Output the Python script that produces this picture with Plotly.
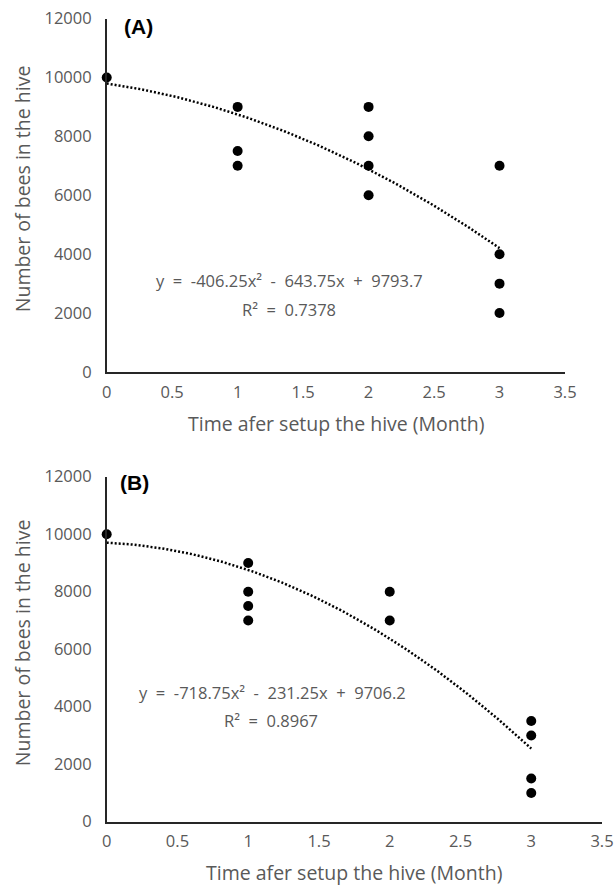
import numpy as np
import plotly.graph_objects as go

# Panel A observations (month, bees)
a_month = [0, 1, 1, 1, 2, 2, 2, 2, 3, 3, 3, 3]
a_bees = [10000, 9000, 7500, 7000, 9000, 8000, 7000, 6000, 7000, 4000, 3000, 2000]
a_coef = [-406.25, -643.75, 9793.7]
a_r2 = 0.7378

# Panel B observations (month, bees)
b_month = [0, 1, 1, 1, 1, 2, 2, 3, 3, 3, 3]
b_bees = [10000, 9000, 8000, 7500, 7000, 8000, 7000, 3500, 3000, 1500, 1000]
b_coef = [-718.75, -231.25, 9706.2]
b_r2 = 0.8967

x_ticks = [0, 0.5, 1, 1.5, 2, 2.5, 3, 3.5]
y_ticks = [0, 2000, 4000, 6000, 8000, 10000, 12000]

W, H = 615, 885
FONT = "Open Sans"
GREY = "#595959"
SP = "\u00a0\u00a0"  # wide gap between equation terms

# pixel boxes for each panel: (left, right, top, bottom)
boxes = {
    "A": (106.7, 565.0, 18.5, 372.0),
    "B": (106.7, 602.0, 476.7, 821.7),
}
label_pos = {"A": (122, 26), "B": (118, 482)}
eq_pos = {"A": (289, 280, 289, 309), "B": (272, 692, 271, 720)}


def px_x(v):
    return v / W


def px_y(v):
    return 1 - v / H


fig = go.Figure()

panels = [
    ("A", a_month, a_bees, a_coef, a_r2, ""),
    ("B", b_month, b_bees, b_coef, b_r2, "2"),
]

for name, xs, ys, coef, r2, sid in panels:
    xref, yref = "x" + sid, "y" + sid
    xf = np.linspace(0, 3, 200)
    yf = np.polyval(coef, xf)
    fig.add_trace(go.Scatter(x=xf, y=yf, mode="lines", xaxis=xref, yaxis=yref,
                             line=dict(color="black", width=2.5, dash="2px,2px"),
                             showlegend=False, hoverinfo="skip"))
    fig.add_trace(go.Scatter(x=xs, y=ys, mode="markers", xaxis=xref, yaxis=yref,
                             marker=dict(color="black", size=10),
                             cliponaxis=False, showlegend=False))
    l, r, t, b = boxes[name]
    axis_common = dict(showgrid=False, zeroline=False, showline=True, linecolor="#262626",
                       linewidth=1.5, ticks="",
                       tickfont=dict(family=FONT, size=16.5, color=GREY))
    fig.layout["xaxis" + sid] = dict(domain=[px_x(l), px_x(r)], range=[0, 3.5],
                                     tickvals=x_ticks, ticktext=[f"{v:g}" for v in x_ticks],
                                     anchor=yref, ticklabelstandoff=4, **axis_common)
    fig.layout["yaxis" + sid] = dict(domain=[px_y(b), px_y(t)], range=[0, 12000],
                                     tickvals=y_ticks, ticktext=[str(v) for v in y_ticks],
                                     anchor=xref, ticklabelstandoff=10, **axis_common)
    lx, ly = label_pos[name]
    fig.add_annotation(text=f"<b>({name})</b>", x=px_x(lx), y=px_y(ly), xref="paper", yref="paper",
                       xanchor="left", yanchor="middle", showarrow=False,
                       font=dict(family="Liberation Sans", size=21, color="black"))
    fig.add_annotation(text="Number of bees in the hive", x=px_x(22), y=px_y((t + b) / 2 - 6),
                       xref="paper", yref="paper", xanchor="center", yanchor="middle",
                       textangle=-90, showarrow=False,
                       font=dict(family=FONT, size=19.5, color=GREY))
    fig.add_annotation(text="Time afer setup the hive (Month)", x=px_x((l + r) / 2), y=px_y(b + 51),
                       xref="paper", yref="paper", xanchor="center", yanchor="middle",
                       showarrow=False, font=dict(family=FONT, size=19.5, color=GREY))
    ex, ey, rx, ry = eq_pos[name]
    eq = (f"y{SP}={SP}{coef[0]:g}x²{SP}-{SP}{abs(coef[1]):g}x{SP}+{SP}{coef[2]:g}")
    fig.add_annotation(text=eq, x=px_x(ex), y=px_y(ey), xref="paper", yref="paper",
                       xanchor="center", yanchor="middle", showarrow=False,
                       font=dict(family=FONT, size=16.5, color=GREY))
    fig.add_annotation(text=f"R²{SP}={SP}{r2:g}", x=px_x(rx), y=px_y(ry), xref="paper", yref="paper",
                       xanchor="center", yanchor="middle", showarrow=False,
                       font=dict(family=FONT, size=16.5, color=GREY))

fig.update_layout(width=W, height=H,
                  margin=dict(l=0, r=0, t=0, b=0, autoexpand=False),
                  plot_bgcolor="white", paper_bgcolor="white")

fig.write_html("out.html")
